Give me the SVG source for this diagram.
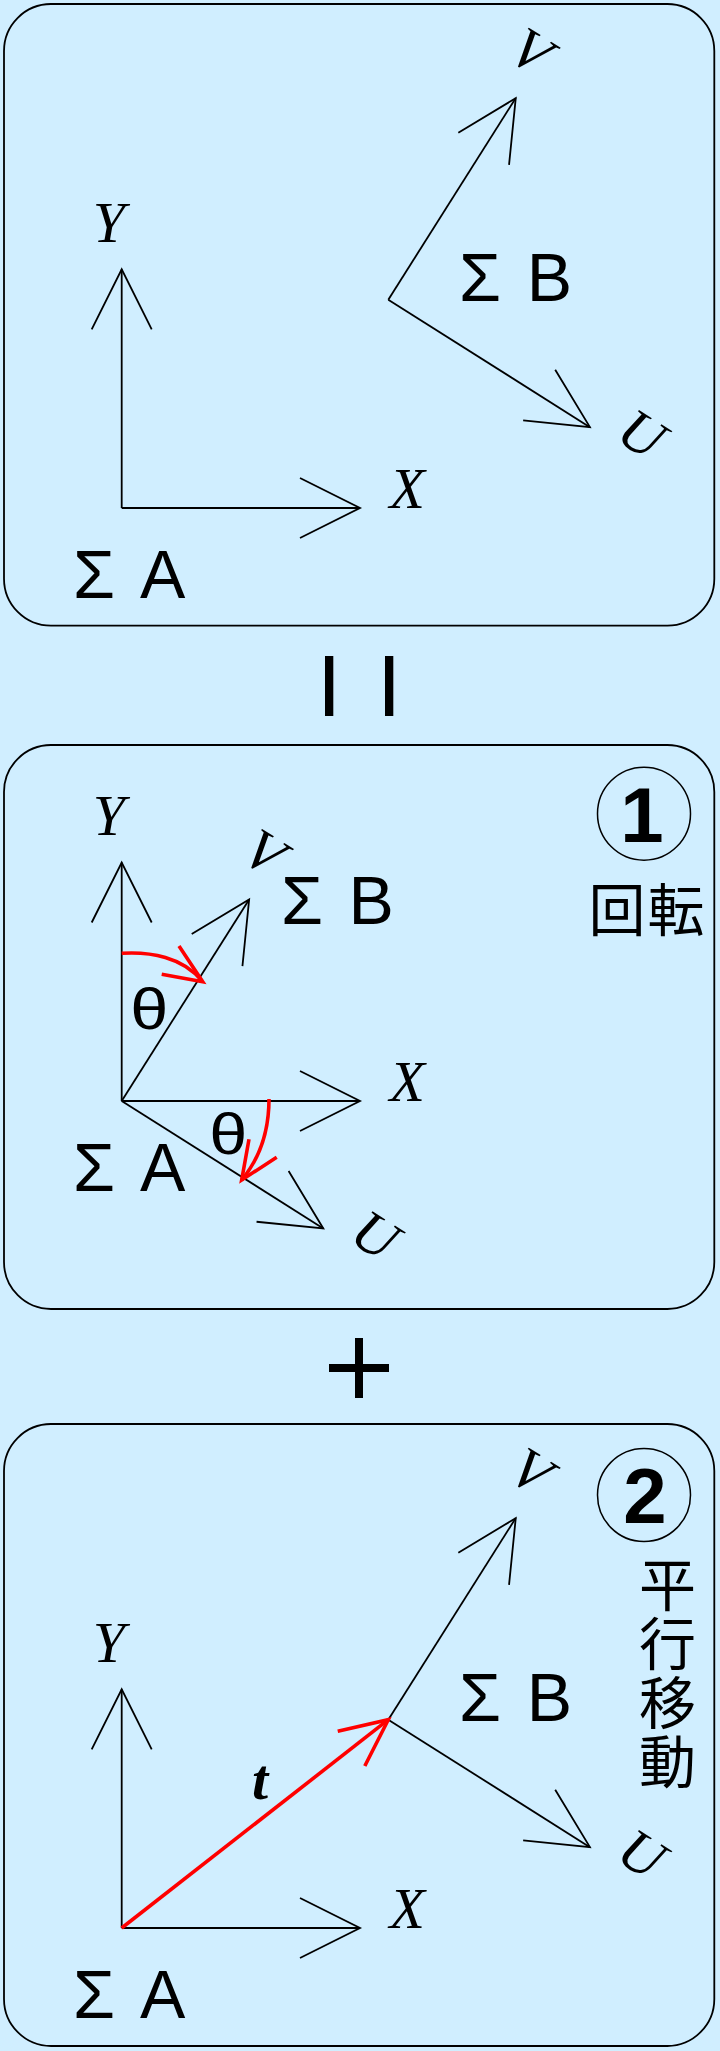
<svg xmlns="http://www.w3.org/2000/svg" width="720" height="2051" viewBox="0 0 720 2051">
<style>
.bg{fill:#D0EEFF}
.box{fill:none;stroke:#000;stroke-width:1.8}
.ax{fill:none;stroke:#000;stroke-width:1.8;marker-end:url(#ah)}
.red{fill:none;stroke:#F00;stroke-width:3.6}
.lbl{font-family:"Liberation Serif","Times New Roman",serif;font-style:italic;font-size:58px;fill:#000}
.sig{font-family:"Liberation Sans",Arial,sans-serif;font-size:68px;fill:#000}
.th{font-family:"Liberation Sans",Arial,sans-serif;font-size:58px;fill:#000;text-anchor:middle}
.num{font-family:"Liberation Sans",Arial,sans-serif;font-weight:bold;font-size:78px;fill:#000;text-anchor:middle}
.circ{fill:none;stroke:#000;stroke-width:1.5}
.jp{font-family:"Noto Sans CJK JP","Noto Sans CJK SC",sans-serif;font-size:57px;fill:#000}
.op{fill:#000}
</style>
<defs>
<marker id="ah" markerUnits="userSpaceOnUse" orient="auto" viewBox="-70 -40 80 80" markerWidth="80" markerHeight="80" refX="0" refY="0">
<path d="M-60,-30L0,0L-60,30" fill="none" stroke="#000" stroke-width="1.8"/>
</marker>
<marker id="ahr" markerUnits="userSpaceOnUse" orient="auto" viewBox="-60 -30 70 60" markerWidth="70" markerHeight="60" refX="0" refY="0">
<path d="M-47,-22L0,0L-47,22" fill="none" stroke="#F00" stroke-width="3.6"/>
</marker>
</defs>
<rect class="bg" x="0" y="0" width="720" height="2051"/>

<g id="panel1">
<rect class="box" x="4" y="4" width="710.3" height="621.7" rx="47"/>
<g id="frameA1">
<path class="ax" d="M121.7,508V269.3"/>
<path class="ax" d="M121.7,508H360"/>
<text class="lbl" x="92.8" y="241.7">Y</text>
<text class="lbl" x="389.4" y="508">X</text>
<text class="sig" x="73 116 140" y="598.3">Σ A</text>
</g>
<g id="frameB1">
<g transform="translate(388.3,299.7) rotate(32.3)">
<path class="ax" d="M0,0V-238.5"/>
<path class="ax" d="M0,0H238.5"/>
<text class="lbl" x="-12.2" y="-267" text-anchor="middle">V</text>
<text class="lbl" x="286.4" y="-2.7" text-anchor="middle">U</text>
</g>
<text class="sig" x="459 501 526.7" y="301">Σ B</text>
</g>
</g>

<g id="equals">
<rect class="op" x="325" y="656" width="8.3" height="60"/>
<rect class="op" x="385" y="656" width="8.3" height="60"/>
</g>

<g id="panel2">
<rect class="box" x="4" y="745" width="710.3" height="564" rx="47"/>
<g id="frameA2">
<path class="ax" d="M121.7,1101V862.5"/>
<path class="ax" d="M121.7,1101H360"/>
<text class="lbl" x="92.8" y="834.7">Y</text>
<text class="lbl" x="389.4" y="1101">X</text>
<text class="sig" x="73 116 140" y="1190.5">Σ A</text>
</g>
<g id="frameB2">
<g transform="translate(121.7,1101) rotate(32.3)">
<path class="ax" d="M0,0V-238.5"/>
<path class="ax" d="M0,0H238.5"/>
<text class="lbl" x="-12.2" y="-267" text-anchor="middle">V</text>
<text class="lbl" x="286.4" y="-2.7" text-anchor="middle">U</text>
</g>
<text class="sig" x="281 322 348.6" y="923.5">Σ B</text>
</g>
<g id="rotation">
<path class="red" d="M121.7,953.3C150,951.5 183,957 202,981"/>
<polyline class="red" points="179,946 202.7,981.7 161.7,974.3"/>
<path class="red" d="M269,1099C269,1130 260,1158 241.7,1180"/>
<polyline class="red" points="249,1139.3 241.7,1180 276.7,1157.3"/>
<text class="th" transform="translate(149.2,1028.7) scale(1.18,1)">θ</text>
<text class="th" transform="translate(228.4,1154.4) scale(1.18,1)">θ</text>
</g>
<g id="step1">
<circle class="circ" cx="644" cy="813.7" r="46.5"/>
<text class="num" x="642" y="841.7">1</text>
<text class="jp" x="617 676" y="930.7" text-anchor="middle">回転</text>
</g>
</g>

<g id="plus">
<rect class="op" x="355" y="1338" width="8" height="60"/>
<rect class="op" x="329" y="1364" width="60" height="8"/>
</g>

<g id="panel3">
<rect class="box" x="4" y="1424" width="710.3" height="622" rx="47"/>
<g id="frameA3">
<path class="ax" d="M121.7,1928V1689.3"/>
<path class="ax" d="M121.7,1928H360"/>
<text class="lbl" x="92.8" y="1661.7">Y</text>
<text class="lbl" x="389.4" y="1928">X</text>
<text class="sig" x="73 116 140" y="2018">Σ A</text>
</g>
<g id="frameB3">
<g transform="translate(388.3,1719.7) rotate(32.3)">
<path class="ax" d="M0,0V-238.5"/>
<path class="ax" d="M0,0H238.5"/>
<text class="lbl" x="-12.2" y="-267" text-anchor="middle">V</text>
<text class="lbl" x="286.4" y="-2.7" text-anchor="middle">U</text>
</g>
<text class="sig" x="459 501 526.7" y="1721">Σ B</text>
</g>
<g id="translation">
<path class="red" d="M121.7,1928L388.3,1719.7" marker-end="url(#ahr)"/>
<text class="lbl" x="252" y="1799" font-weight="bold">t</text>
</g>
<g id="step2">
<circle class="circ" cx="644" cy="1495" r="46.5"/>
<text class="num" x="645" y="1522.5">2</text>
<text class="jp" x="667.5" y="1556" writing-mode="vertical-rl" style="writing-mode:vertical-rl;letter-spacing:2px">平行移動</text>
</g>
</g>
</svg>
